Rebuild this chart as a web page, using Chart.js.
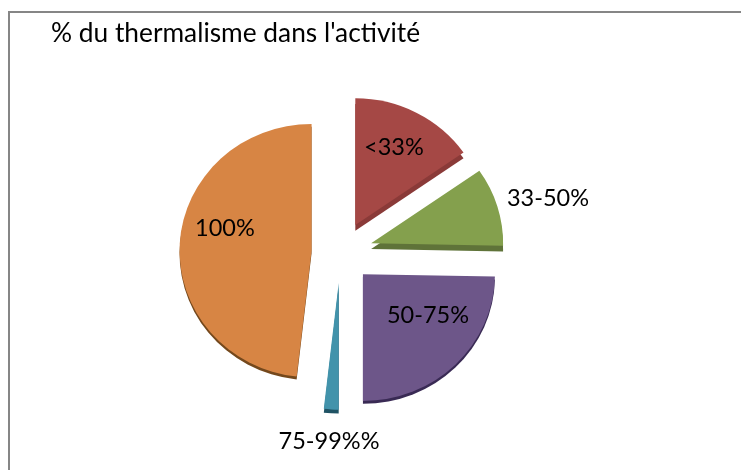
<!DOCTYPE html>
<html><head><meta charset="utf-8">
<style>html,body{margin:0;padding:0;background:#fff}#w{position:relative;width:741px;height:470px}</style>
<script src="https://cdn.jsdelivr.net/npm/chart.js@4"></script>
</head><body><div id="w"><canvas id="c" width="741" height="470"></canvas></div>
<script>
const categories = ['<33%', '33-50%', '50-75%', '75-99%%', '100%'];
const values = [15.3, 10, 24.7, 1.8, 48.2];
const colors = ['#a54845', '#84a04d', '#6d5689', '#4293ab', '#d78544'];
const sideColors = ['#8a3a38', '#5f7339', '#392a54', '#1f5364', '#74481c'];
const titleText = "% du thermalisme dans l'activité";

const explode = [32, 32, 32, 32, 29];
const depth = [6, 6, 3, 4, 3];
const SQUASH = 0.96, FONT = 'Lato';
// label anchor: [fraction of radius along angle, angle in degrees clockwise from 12 o'clock]
const labelPolar = [[0.666, 26.1], [1.382, 75.8], [0.599, 124.6], [1.267, 183.3], [0.676, 283.8]];

const rad = d => d * Math.PI / 180;
const explodePlugin = {
  id: 'explode',
  afterDatasetUpdate(chart) {
    chart.getDatasetMeta(0).data.forEach((a, i) => {
      const mid = (a.startAngle + a.endAngle) / 2;
      a.x += Math.cos(mid) * explode[i];
      a.y += Math.sin(mid) * explode[i];
    });
  },
  beforeDatasetsDraw(chart) {
    const ctx = chart.ctx, arcs = chart.getDatasetMeta(0).data;
    const cy = (chart.chartArea.top + chart.chartArea.bottom) / 2;
    ctx.save();
    ctx.translate(0, cy); ctx.scale(1, SQUASH); ctx.translate(0, -cy);
    arcs.forEach((a, i) => {
      ctx.fillStyle = sideColors[i];
      ctx.beginPath();
      ctx.moveTo(a.x, a.y + depth[i]);
      ctx.arc(a.x, a.y + depth[i], a.outerRadius, a.startAngle, a.endAngle);
      ctx.closePath();
      ctx.fill();
    });
  },
  afterDatasetsDraw(chart) {
    const ctx = chart.ctx, arcs = chart.getDatasetMeta(0).data;
    ctx.restore();
    const cy = (chart.chartArea.top + chart.chartArea.bottom) / 2;
    ctx.save();
    ctx.fillStyle = '#000';
    ctx.font = '23.5px ' + FONT;
    ctx.textAlign = 'center';
    ctx.textBaseline = 'middle';
    arcs.forEach((a, i) => {
      const [f, deg] = labelPolar[i];
      const x = a.x + Math.sin(rad(deg)) * a.outerRadius * f;
      const y = a.y - Math.cos(rad(deg)) * a.outerRadius * f;
      ctx.fillText(categories[i], x, cy + (y - cy) * SQUASH - 2);
    });
    ctx.restore();
  }
};
const framePlugin = {
  id: 'frame',
  beforeDraw(chart) {
    const ctx = chart.ctx;
    ctx.save();
    ctx.strokeStyle = '#868686';
    ctx.lineWidth = 2;
    ctx.beginPath();
    ctx.moveTo(9, 470); ctx.lineTo(9, 12); ctx.lineTo(741, 12);
    ctx.stroke();
    ctx.restore();
  }
};
new Chart(document.getElementById('c'), {
  type: 'pie',
  data: { labels: categories, datasets: [{ data: values, backgroundColor: colors, borderWidth: 0 }] },
  plugins: [framePlugin, explodePlugin],
  options: {
    responsive: false, animation: false, radius: 132,
    layout: { padding: { left: 51, right: 111, top: 0, bottom: 15 } },
    plugins: {
      legend: { display: false }, tooltip: { enabled: false },
      title: { display: true, text: titleText, align: 'start', color: '#000',
        font: { family: FONT, size: 26.3, weight: 'normal' },
        padding: { top: 18, bottom: 0 } }
    }
  }
});
</script></body></html>
